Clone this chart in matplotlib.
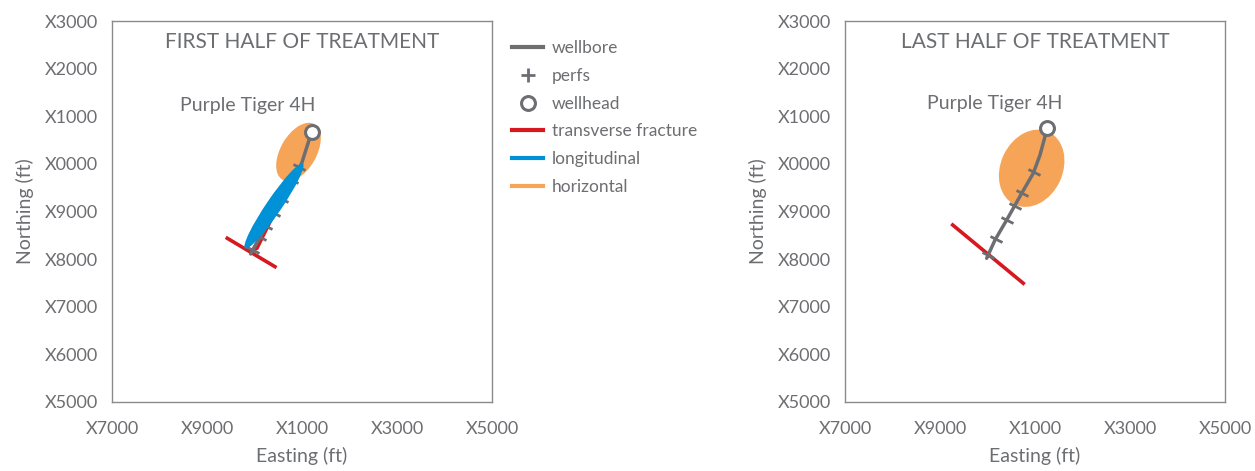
import matplotlib
matplotlib.use("Agg")
import matplotlib.pyplot as plt
from matplotlib.patches import Ellipse, Polygon
from matplotlib.lines import Line2D
from matplotlib.markers import MarkerStyle
from matplotlib.transforms import Affine2D

plt.rcParams['font.family'] = ['Lato', 'DejaVu Sans']

GRAY = '#6d6e71'
RED = '#d7191f'
BLUE = '#0091d6'
ORANGE = '#f6a458'

# axis ticks (real coordinates are masked, labels keep the masked text)
easting_ticks = [7000, 9000, 11000, 13000, 15000]
easting_labels = ['X7000', 'X9000', 'X1000', 'X3000', 'X5000']
northing_ticks = [5000, 6000, 7000, 8000, 9000, 10000, 11000, 12000, 13000]
northing_labels = ['X5000', 'X6000', 'X7000', 'X8000', 'X9000',
                   'X0000', 'X1000', 'X2000', 'X3000']

# ---- first half of treatment
well1_x = [11204, 10993, 9920]
well1_y = [10676, 10012, 8108]
perf1_x = [10939, 10795, 10570, 10406, 10252, 10122, 9968]
perf1_y = [9935, 9662, 9263, 8969, 8696, 8465, 8192]
frac1_x = [9427, 10431]
frac1_y = [8438, 7841]
sliver1_x = [10980, 9880, 10080]
sliver1_y = [10020, 8120, 8200]
horiz1 = (10926, 10250, 1347, 756, 60)      # cx, cy, length, width, angle
longit1 = (10410, 9116, 2160, 320, 55.7)

# ---- last half of treatment
well2_x = [11258, 11210, 11105, 10964, 10720, 10404, 10158, 9983]
well2_y = [10748, 10572, 10186, 9803, 9383, 8822, 8402, 8018]
perf2_x = [10979, 10726, 10578, 10410, 10179, 10011]
perf2_y = [9836, 9395, 9122, 8822, 8423, 8087]
frac2_x = [9267, 10753]
frac2_y = [8717, 7493]
horiz2 = (10930, 9908, 1684, 1305, 65)

well_name = 'Purple Tiger 4H'
name1_xy = (9852, 11216)
name2_xy = (10158, 11258)

fig = plt.figure(figsize=(12.55, 4.71), dpi=100)
ax1 = fig.add_axes([112 / 1255, 69 / 471, 380 / 1255, 381 / 471])
ax2 = fig.add_axes([845 / 1255, 69 / 471, 380 / 1255, 381 / 471])

perf_marker = MarkerStyle('_', transform=Affine2D().rotate_deg(-29))


def setup(ax, title):
    ax.set_xlim(7000, 15000)
    ax.set_ylim(5000, 13000)
    ax.set_xticks(easting_ticks)
    ax.set_xticklabels(easting_labels)
    ax.set_yticks(northing_ticks)
    ax.set_yticklabels(northing_labels)
    ax.tick_params(length=0, labelsize=13, labelcolor=GRAY)
    ax.tick_params(axis='x', pad=14)
    ax.tick_params(axis='y', pad=10)
    for s in ax.spines.values():
        s.set_color('#8a8a8a')
        s.set_linewidth(1.0)
    ax.set_xlabel('Easting (ft)', fontsize=14, color=GRAY, labelpad=7)
    ax.set_ylabel('Northing (ft)', fontsize=14, color=GRAY, labelpad=8)
    ax.text(0.5, 0.945, title, transform=ax.transAxes, ha='center', va='center',
            fontsize=15, color=GRAY)


def draw_well(ax, wx, wy, px, py, name_xy):
    ax.plot(wx, wy, color=GRAY, lw=2.5, zorder=4, solid_capstyle='round')
    ax.plot(px, py, ls='none', marker=perf_marker, ms=10, mew=2.0,
            color=GRAY, zorder=4)
    ax.plot(wx[0], wy[0], ls='none', marker='o', ms=10, mew=2.2,
            mfc='white', mec=GRAY, zorder=6)
    ax.text(name_xy[0], name_xy[1], well_name, ha='center', va='center',
            fontsize=14, color=GRAY, zorder=7)


setup(ax1, 'FIRST HALF OF TREATMENT')
setup(ax2, 'LAST HALF OF TREATMENT')

# first half
cx, cy, w, h, a = horiz1
ax1.add_patch(Ellipse((cx, cy), w, h, angle=a, color=ORANGE, lw=0, zorder=1))
ax1.plot(frac1_x, frac1_y, color=RED, lw=2.6, zorder=2)
ax1.add_patch(Polygon(list(zip(sliver1_x, sliver1_y)), closed=True,
                      color=RED, lw=0, zorder=3))
draw_well(ax1, well1_x, well1_y, perf1_x, perf1_y, name1_xy)
cx, cy, w, h, a = longit1
ax1.add_patch(Ellipse((cx, cy), w, h, angle=a, color=BLUE, lw=0, zorder=5))

# last half
cx, cy, w, h, a = horiz2
ax2.add_patch(Ellipse((cx, cy), w, h, angle=a, color=ORANGE, lw=0, zorder=1))
ax2.plot(frac2_x, frac2_y, color=RED, lw=2.6, zorder=2)
draw_well(ax2, well2_x, well2_y, perf2_x, perf2_y, name2_xy)

# legend
handles = [
    Line2D([], [], color=GRAY, lw=3),
    Line2D([], [], ls='none', marker='+', ms=10, mew=2, color=GRAY),
    Line2D([], [], ls='none', marker='o', ms=10, mew=2.2, mfc='white', mec=GRAY),
    Line2D([], [], color=RED, lw=3),
    Line2D([], [], color=BLUE, lw=3),
    Line2D([], [], color=ORANGE, lw=3),
]
labels = ['wellbore', 'perfs', 'wellhead', 'transverse fracture',
          'longitudinal', 'horizontal']
leg = fig.legend(handles, labels, loc='upper left',
                 bbox_to_anchor=(512 / 1255, 1 - 40 / 471), frameon=False,
                 fontsize=12.5, handlelength=1.8, handletextpad=0.5,
                 labelspacing=0.68, borderaxespad=0, borderpad=0)
for t in leg.get_texts():
    t.set_color(GRAY)

fig.savefig('out.png', dpi=100)
